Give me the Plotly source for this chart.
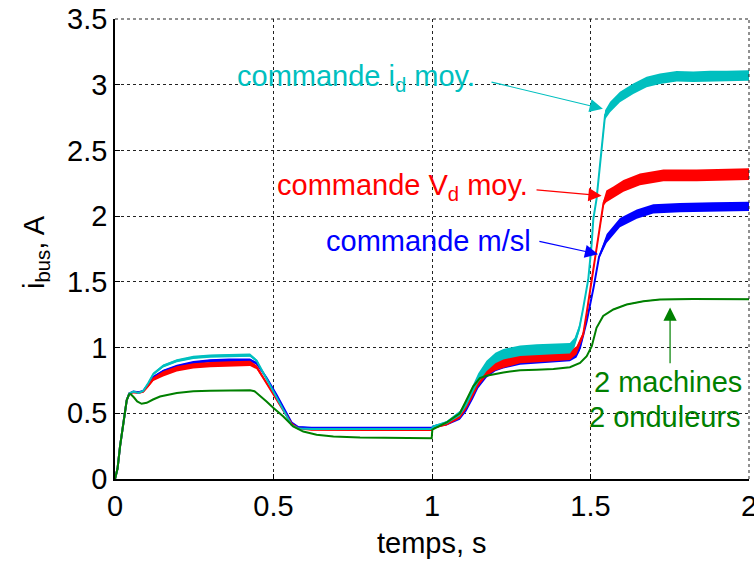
import plotly.graph_objects as go

# ---- i_bus traces (time in s, current in A) ----
# shared start-up ramp of all four simulations
ramp_t = [0.0, 0.008, 0.016, 0.026, 0.037, 0.045]
ramp_i = [0.0, 0.08, 0.25, 0.42, 0.60, 0.65]

# commande i_d moy. (cyan)
cyan_t = ramp_t + [0.058, 0.074, 0.089, 0.105, 0.121, 0.152, 0.195, 0.247, 0.30, 0.36, 0.426,
                   0.447, 0.478, 0.51, 0.531, 0.557, 0.578, 0.62, 0.80, 0.999, 1.004, 1.046,
                   1.088, 1.109, 1.13, 1.146, 1.172, 1.20, 1.225, 1.278, 1.33, 1.383, 1.435,
                   1.45, 1.465, 1.477, 1.493, 1.503, 1.509, 1.519, 1.535, 1.546, 1.562, 1.593,
                   1.635, 1.677, 1.719, 1.772, 1.824, 1.877, 1.93, 2.0]
cyan_i = ramp_i + [0.665, 0.655, 0.67, 0.73, 0.80, 0.86, 0.90, 0.925, 0.935, 0.94, 0.942,
                   0.90, 0.76, 0.62, 0.53, 0.41, 0.385, 0.38, 0.38, 0.38, 0.40, 0.43,
                   0.50, 0.58, 0.69, 0.77, 0.86, 0.92, 0.95, 0.975, 0.985, 0.99, 0.995,
                   1.04, 1.15, 1.30, 1.52, 1.77, 1.98, 2.13, 2.51, 2.77, 2.83, 2.906,
                   2.97, 3.02, 3.045, 3.065, 3.06, 3.066, 3.066, 3.07]
cyan_rip = [0.0] * 6 + [0.005, 0.005, 0.005, 0.008, 0.01, 0.012, 0.012, 0.012, 0.012, 0.012, 0.012,
                        0.01, 0.008, 0.005, 0.005, 0.005, 0.005, 0.004, 0.004, 0.004, 0.008, 0.012,
                        0.02, 0.025, 0.03, 0.035, 0.04, 0.04, 0.04, 0.04, 0.04, 0.04, 0.04,
                        0.035, 0.025, 0.015, 0.01, 0.01, 0.01, 0.01, 0.02, 0.035, 0.04, 0.04,
                        0.04, 0.04, 0.04, 0.04, 0.04, 0.04, 0.04, 0.04]

# commande V_d moy. (red)
red_t = ramp_t + [0.058, 0.074, 0.089, 0.105, 0.121, 0.152, 0.195, 0.247, 0.30, 0.36, 0.426,
                  0.447, 0.478, 0.51, 0.531, 0.557, 0.578, 0.62, 0.80, 0.999, 1.004, 1.046,
                  1.088, 1.109, 1.13, 1.146, 1.172, 1.20, 1.225, 1.278, 1.33, 1.383, 1.435,
                  1.456, 1.477, 1.488, 1.503, 1.53, 1.541, 1.55, 1.572, 1.604, 1.656, 1.73,
                  1.835, 1.92, 2.0]
red_i = ramp_i + [0.66, 0.655, 0.665, 0.71, 0.76, 0.80, 0.837, 0.86, 0.87, 0.875, 0.88,
                  0.85, 0.73, 0.61, 0.53, 0.42, 0.385, 0.375, 0.373, 0.372, 0.39, 0.42,
                  0.48, 0.56, 0.66, 0.74, 0.82, 0.86, 0.88, 0.915, 0.925, 0.93, 0.94,
                  0.98, 1.10, 1.265, 1.49, 1.926, 2.10, 2.15, 2.18, 2.23, 2.28, 2.31,
                  2.31, 2.315, 2.32]
red_rip = [0.0] * 6 + [0.005, 0.005, 0.008, 0.012, 0.015, 0.02, 0.02, 0.02, 0.02, 0.02, 0.02,
                       0.015, 0.01, 0.006, 0.005, 0.005, 0.005, 0.004, 0.004, 0.004, 0.008, 0.012,
                       0.02, 0.025, 0.03, 0.035, 0.035, 0.035, 0.035, 0.035, 0.035, 0.035, 0.035,
                       0.03, 0.02, 0.01, 0.01, 0.01, 0.02, 0.045, 0.045, 0.045, 0.045, 0.045,
                       0.045, 0.045, 0.045]

# commande m/sl (blue)
blue_t = ramp_t + [0.058, 0.074, 0.089, 0.105, 0.121, 0.152, 0.195, 0.247, 0.30, 0.36, 0.426,
                   0.447, 0.478, 0.51, 0.531, 0.557, 0.578, 0.62, 0.80, 0.999, 1.004, 1.046,
                   1.088, 1.109, 1.13, 1.146, 1.172, 1.20, 1.225, 1.278, 1.33, 1.383, 1.435,
                   1.456, 1.467, 1.488, 1.51, 1.527, 1.54, 1.551, 1.593, 1.646, 1.698, 1.782,
                   1.887, 2.0]
blue_i = ramp_i + [0.665, 0.66, 0.67, 0.72, 0.775, 0.82, 0.857, 0.885, 0.90, 0.905, 0.905,
                   0.88, 0.77, 0.64, 0.55, 0.43, 0.395, 0.39, 0.39, 0.39, 0.40, 0.42,
                   0.47, 0.54, 0.64, 0.72, 0.80, 0.85, 0.87, 0.90, 0.91, 0.915, 0.925,
                   0.95, 1.0, 1.20, 1.46, 1.69, 1.77, 1.83, 1.95, 2.015, 2.055, 2.065,
                   2.07, 2.075]
blue_rip = [0.0] * 6 + [0.005, 0.005, 0.005, 0.008, 0.01, 0.012, 0.012, 0.012, 0.012, 0.012, 0.012,
                        0.01, 0.008, 0.005, 0.005, 0.005, 0.005, 0.004, 0.004, 0.004, 0.008, 0.012,
                        0.02, 0.025, 0.03, 0.03, 0.03, 0.03, 0.03, 0.03, 0.03, 0.03, 0.03,
                        0.025, 0.02, 0.01, 0.01, 0.015, 0.03, 0.035, 0.035, 0.035, 0.035, 0.035,
                        0.035, 0.035]

# 2 machines / 2 onduleurs (green)
green_t = ramp_t + [0.05, 0.06, 0.07, 0.084, 0.10, 0.12, 0.142, 0.195, 0.247, 0.30, 0.36,
                    0.426, 0.44, 0.46, 0.478, 0.50, 0.531, 0.562, 0.594, 0.636, 0.689, 0.773,
                    0.90, 0.999, 1.001, 1.046, 1.088, 1.109, 1.13, 1.151, 1.172, 1.225, 1.278,
                    1.33, 1.383, 1.435, 1.467, 1.488, 1.504, 1.519, 1.54, 1.572, 1.614, 1.667,
                    1.719, 1.824, 2.0]
green_i = ramp_i[:-1] + [0.645, 0.645, 0.62, 0.59, 0.572, 0.58, 0.605, 0.628, 0.654, 0.667, 0.672, 0.675,
                         0.675, 0.668, 0.63, 0.59, 0.54, 0.475, 0.40, 0.361, 0.336, 0.323, 0.315,
                         0.312, 0.31, 0.375, 0.43, 0.50, 0.60, 0.705, 0.768, 0.786, 0.811, 0.827,
                         0.832, 0.837, 0.85, 0.883, 0.934, 1.01, 1.15, 1.24, 1.29, 1.328, 1.353,
                         1.366, 1.37, 1.368]
green_rip = [0.0] * 47 + [0.004] * 6

fig = go.Figure()


def add_series(t, i, rip, color, width=2):
    upper = [a + b for a, b in zip(i, rip)]
    lower = [a - b for a, b in zip(i, rip)]
    # ripple envelope drawn as a filled band
    fig.add_trace(go.Scatter(x=t + t[::-1], y=upper + lower[::-1], fill="toself",
                             fillcolor=color, line=dict(width=0), mode="lines",
                             hoverinfo="skip", showlegend=False))
    fig.add_trace(go.Scatter(x=t, y=i, mode="lines", line=dict(color=color, width=width),
                             showlegend=False))


add_series(blue_t, blue_i, blue_rip, "#0000FF")
add_series(red_t, red_i, red_rip, "#FF0000")
add_series(cyan_t, cyan_i, cyan_rip, "#00BFBF")
add_series(green_t, green_i, green_rip, "#008000")

FONT = "Liberation Sans, Arial, sans-serif"
GRID = "#222222"

axis_common = dict(
    showline=True, linecolor="black", linewidth=1.5,
    showgrid=True, gridcolor=GRID, griddash="3px,3px", gridwidth=1,
    zeroline=False, ticks="inside", ticklen=5, tickcolor="black",
    ticklabeloverflow="allow", automargin=False,
    tickfont=dict(family=FONT, size=29, color="black"),
)

fig.update_layout(
    width=754, height=563,
    margin=dict(l=115, r=5, t=19, b=84),
    paper_bgcolor="white", plot_bgcolor="white",
    xaxis=dict(range=[0, 2], dtick=0.5, tick0=0, ticklabelstandoff=0, **axis_common),
    yaxis=dict(range=[0, 3.5], dtick=0.5, tick0=0, ticklabelstandoff=0, **axis_common),
)

# dotted frame on the top and right sides
fig.add_shape(type="line", xref="paper", yref="paper", x0=0, x1=1, y0=1, y1=1,
              line=dict(color=GRID, width=1, dash="3px,3px"))
fig.add_shape(type="line", xref="paper", yref="paper", x0=1, x1=1, y0=0, y1=1,
              line=dict(color=GRID, width=1, dash="3px,3px"))

# axis titles
fig.add_annotation(text="temps, s", xref="paper", yref="paper", x=0.5, y=-0.14,
                   xanchor="center", yanchor="middle", showarrow=False,
                   font=dict(family=FONT, size=29, color="black"))
fig.add_annotation(text="i<sub>bus</sub>, A", xref="paper", yref="paper", x=-0.1246, y=0.4935,
                   xanchor="center", yanchor="middle", showarrow=False, textangle=-90,
                   font=dict(family=FONT, size=29, color="black"))

# series labels
labels = [
    ("commande i<sub>d</sub> moy.", 1.142, 3.05, "right", "#00BFBF"),
    ("commande V<sub>d</sub> moy.", 1.309, 2.225, "right", "#FF0000"),
    ("commande m/sl", 1.319, 1.809, "right", "#0000FF"),
    ("2 machines", 1.745, 0.74, "center", "#008000"),
    ("2 onduleurs", 1.735, 0.472, "center", "#008000"),
]
for txt, x, y, xa, col in labels:
    fig.add_annotation(text=txt, x=x, y=y, xref="x", yref="y", xanchor=xa, yanchor="middle",
                       showarrow=False, font=dict(family=FONT, size=29, color=col))

# pointer arrows (tail -> tip, data coordinates)
arrows = [
    (1.183, 3.023, 1.539, 2.817, "#00BFBF"),
    (1.325, 2.201, 1.535, 2.155, "#FF0000"),
    (1.334, 1.811, 1.524, 1.71, "#0000FF"),
    (1.751, 0.87, 1.751, 1.305, "#008000"),
]
for ax, ay, x, y, col in arrows:
    fig.add_annotation(text="", x=x, y=y, ax=ax, ay=ay, xref="x", yref="y", axref="x", ayref="y",
                       showarrow=True, arrowhead=2, arrowsize=2.2, arrowwidth=1.2,
                       arrowcolor=col, standoff=0, startstandoff=0)

fig.write_html("out.html")
